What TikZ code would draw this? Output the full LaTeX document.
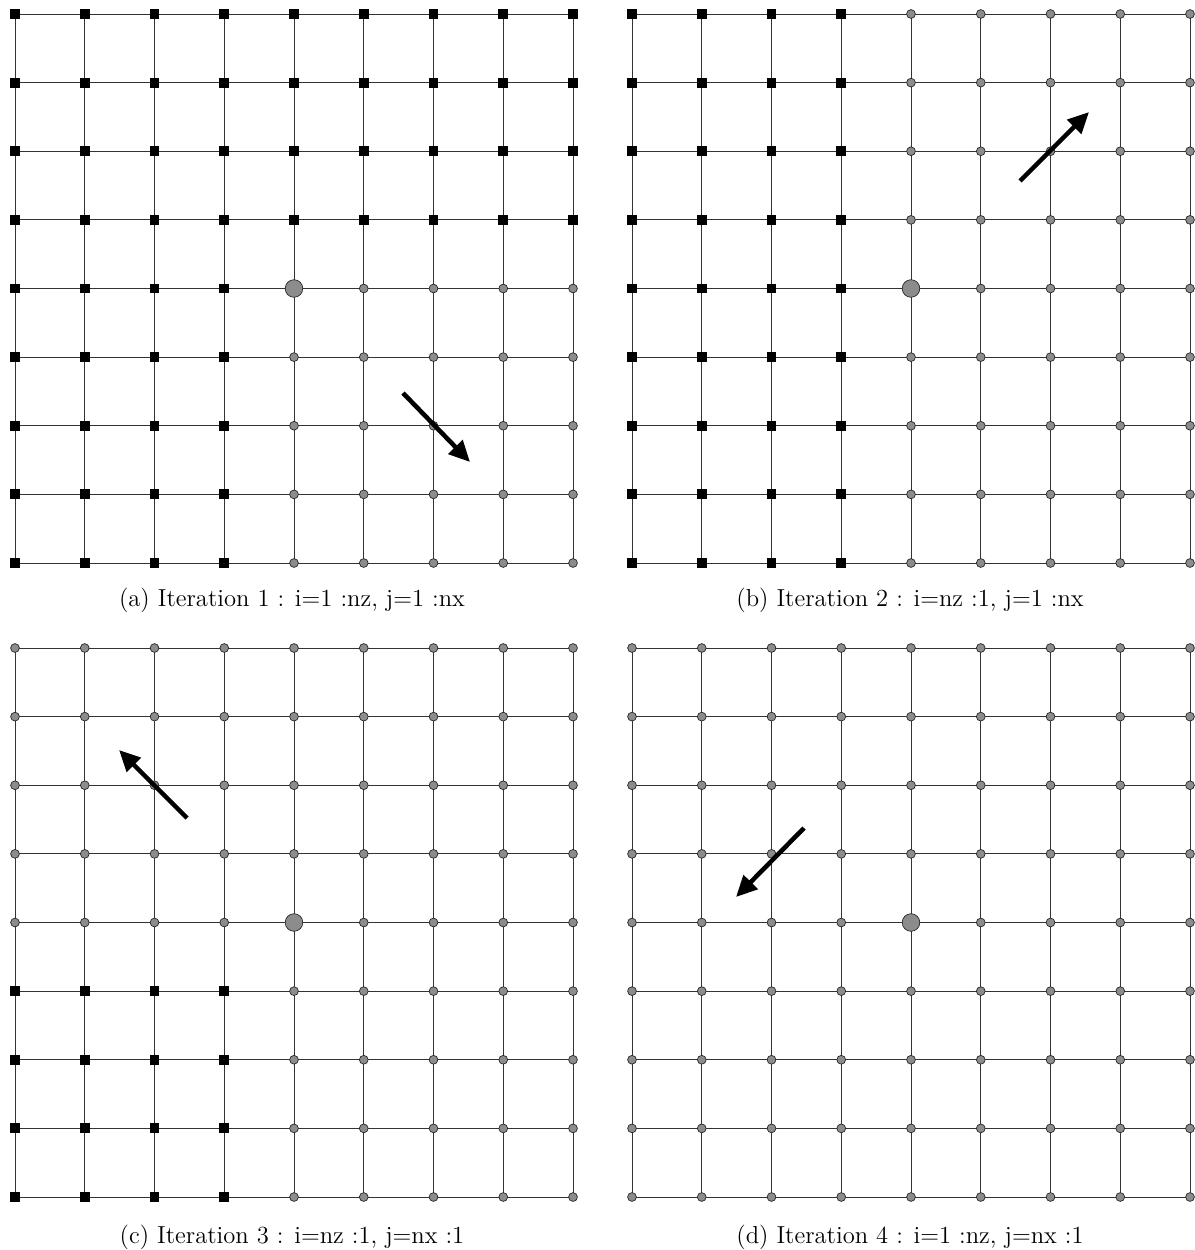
\documentclass[tikz,border=0pt]{standalone}
\usepackage{tikz}
\usetikzlibrary{arrows.meta,backgrounds}

\begin{document}
\begin{tikzpicture}[x=0.02cm,y=-0.02cm,
    pt0/.style={circle,draw=black!85,fill=black!45,line width=0.4pt,inner sep=0pt,minimum size=5pt},
    pt1/.style={rectangle,fill=black,inner sep=0pt,minimum size=5.6pt},
    pt2/.style={circle,draw=black!85,fill=black!45,line width=0.4pt,inner sep=0pt,minimum size=10pt},
    gridline/.style={black!80,line width=0.55pt},
    sweep/.style={line width=2.6pt,-{Triangle[length=12pt,width=11pt]}},
    caption/.style={font=\fontsize{14}{17}\selectfont}]
  \useasboundingbox (0,0) rectangle (1194,1250);
  % panel (a): i=1:nz, j=1:nx
  \foreach \c in {0,...,8} \foreach \r in {0,...,8} {
    \pgfmathtruncatemacro\k{(\c==4 && \r==4) ? 2 : ((\r<4 || \c<4) ? 1 : 0)}
    \node[pt\k] (a-\c-\r) at ({15+69.75*\c},{14+68.625*\r}) {};
  }
  % panel (b): i=nz:1, j=1:nx
  \foreach \c in {0,...,8} \foreach \r in {0,...,8} {
    \pgfmathtruncatemacro\k{(\c==4 && \r==4) ? 2 : ((\c<4) ? 1 : 0)}
    \node[pt\k] (b-\c-\r) at ({632+69.75*\c},{14+68.625*\r}) {};
  }
  % panel (c): i=nz:1, j=nx:1
  \foreach \c in {0,...,8} \foreach \r in {0,...,8} {
    \pgfmathtruncatemacro\k{(\c==4 && \r==4) ? 2 : ((\r>4 && \c<4) ? 1 : 0)}
    \node[pt\k] (c-\c-\r) at ({15+69.75*\c},{648+68.625*\r}) {};
  }
  % panel (d): i=1:nz, j=nx:1
  \foreach \c in {0,...,8} \foreach \r in {0,...,8} {
    \pgfmathtruncatemacro\k{(\c==4 && \r==4) ? 2 : 0}
    \node[pt\k] (d-\c-\r) at ({632+69.75*\c},{648+68.625*\r}) {};
  }
  % grid lines behind the points
  \begin{pgfonlayer}{background}
    \foreach \p in {a,b,c,d} \foreach \i in {0,...,8} {
      \draw[gridline] (\p-\i-0.center) -- (\p-\i-8.center);
      \draw[gridline] (\p-0-\i.center) -- (\p-8-\i.center);
    }
  \end{pgfonlayer}
  % sweep directions
  \coordinate (a-tail) at (403,393);  \coordinate (a-tip) at (470,462);
  \coordinate (b-tail) at (1020,181); \coordinate (b-tip) at (1089,112);
  \coordinate (c-tail) at (187,818);  \coordinate (c-tip) at (119,750);
  \coordinate (d-tail) at (804,828);  \coordinate (d-tip) at (736,897);
  \foreach \p in {a,b,c,d} \draw[sweep] (\p-tail) -- (\p-tip);
  % captions
  \node[caption] (cap-a) at (292,600) {(a) Iteration 1 : i=1 :nz, j=1 :nx};
  \node[caption] (cap-b) at (910,600) {(b) Iteration 2 : i=nz :1, j=1 :nx};
  \node[caption] (cap-c) at (292,1237) {(c) Iteration 3 : i=nz :1, j=nx :1};
  \node[caption] (cap-d) at (910,1237) {(d) Iteration 4 : i=1 :nz, j=nx :1};
\end{tikzpicture}
\end{document}
